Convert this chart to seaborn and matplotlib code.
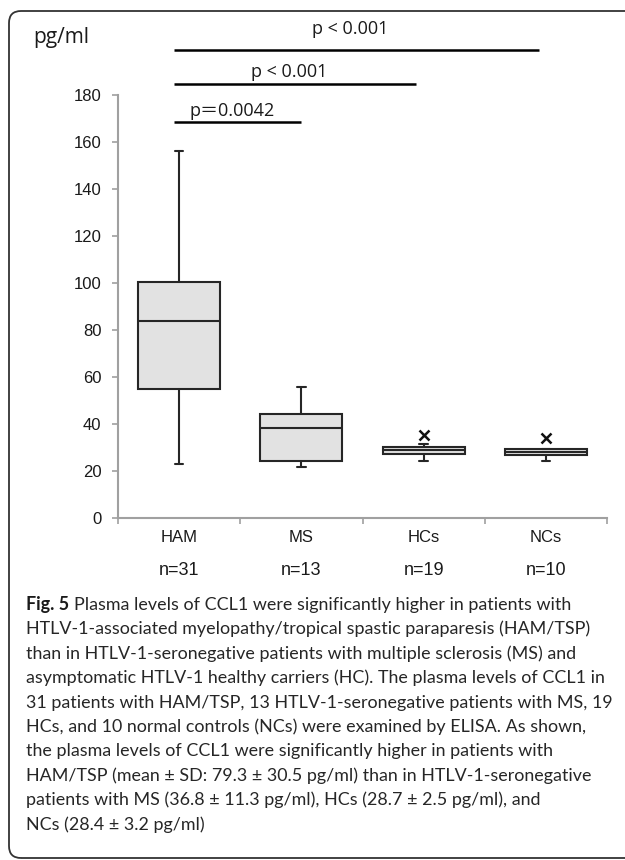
import matplotlib
matplotlib.use("Agg")
import matplotlib.pyplot as plt
from matplotlib.patches import FancyBboxPatch
import seaborn as sns

# Box statistics (pg/ml)
groups = ["HAM", "MS", "HCs", "NCs"]
n_counts = [31, 13, 19, 10]
medians = [83.9, 38.2, 28.8, 27.9]
q1 = [54.9, 24.1, 27.3, 26.6]
q3 = [100.5, 44.3, 30.1, 29.3]
whisker_low = [22.7, 21.6, 24.1, 24.3]
whisker_high = [156.3, 55.8, 31.4, 29.3]
outliers = [[], [], [35.2], [34.1]]

# comparisons against HAM
comp_targets = ["MS", "HCs", "NCs"]
comp_labels = ["p\uff1d0.0042", "p < 0.001", "p < 0.001"]

caption_lines = [
    "Plasma levels of CCL1 were significantly higher in patients with",
    "HTLV-1-associated myelopathy/tropical spastic paraparesis (HAM/TSP)",
    "than in HTLV-1-seronegative patients with multiple sclerosis (MS) and",
    "asymptomatic HTLV-1 healthy carriers (HC). The plasma levels of CCL1 in",
    "31 patients with HAM/TSP, 13 HTLV-1-seronegative patients with MS, 19",
    "HCs, and 10 normal controls (NCs) were examined by ELISA. As shown,",
    "the plasma levels of CCL1 were significantly higher in patients with",
    "HAM/TSP (mean \u00b1 SD: 79.3 \u00b1 30.5 pg/ml) than in HTLV-1-seronegative",
    "patients with MS (36.8 \u00b1 11.3 pg/ml), HCs (28.7 \u00b1 2.5 pg/ml), and",
    "NCs (28.4 \u00b1 3.2 pg/ml)",
]

sns.set_style("white")
plt.rcParams['font.family'] = ['Liberation Sans', 'DejaVu Sans']

W, H = 625, 860
fig = plt.figure(figsize=(W / 100, H / 100), dpi=100)
ax = fig.add_axes([118 / W, 1 - 517.7 / H, (607 - 118) / W, (517.7 - 95) / H])

stats = []
for i, g in enumerate(groups):
    stats.append(dict(label=g, med=medians[i], q1=q1[i], q3=q3[i],
                      whislo=whisker_low[i], whishi=whisker_high[i],
                      fliers=outliers[i]))

dark = '#262626'
ax.bxp(stats, positions=range(len(groups)), widths=0.67, patch_artist=True,
       showfliers=True, manage_ticks=False, capwidths=0.07,
       boxprops=dict(facecolor='#e2e2e2', edgecolor=dark, linewidth=1.5),
       medianprops=dict(color=dark, linewidth=1.5),
       whiskerprops=dict(color=dark, linewidth=1.5),
       capprops=dict(color=dark, linewidth=1.5),
       flierprops=dict(marker='x', markersize=7, markeredgecolor='#111111',
                       markeredgewidth=1.8, linestyle='none'))

ax.set_xlim(-0.5, len(groups) - 0.5)
ax.set_ylim(0, 180)
ax.set_yticks(range(0, 181, 20))
ax.set_xticks(range(len(groups)))
ax.set_xticklabels(groups)
ax.set_xticks([i - 0.5 for i in range(len(groups) + 1)], minor=True)

sns.despine(ax=ax)
for s in ['left', 'bottom']:
    ax.spines[s].set_color('#a0a0a0')
    ax.spines[s].set_linewidth(1.5)
ax.tick_params(axis='y', length=4, width=1.2, color='#a0a0a0', pad=8,
               labelsize=12, labelcolor='#1a1a1a', left=True)
ax.tick_params(axis='x', which='major', length=0, pad=9, labelsize=12,
               labelcolor='#1a1a1a')
ax.tick_params(axis='x', which='minor', length=4, width=1.2, color='#a0a0a0',
               bottom=True, direction='out')
ax.grid(False)

# n labels under the group names
for i, n in enumerate(n_counts):
    ax.text(i, -0.124, f"n={n}", transform=ax.get_xaxis_transform(),
            ha='center', va='center', fontsize=13, color='#1a1a1a')

# significance bars
line_levels = [168.5, 184.6, 199.2]
label_levels = [171.0, 187.7, 206.0]
for k, (tgt, lab) in enumerate(zip(comp_targets, comp_labels)):
    x0 = -0.04
    x1 = groups.index(tgt) - (0.0 if k == 0 else 0.06)
    ax.plot([x0, x1], [line_levels[k], line_levels[k]], color='black',
            linewidth=1.8, clip_on=False, solid_capstyle='butt')
    ax.text((x0 + x1) / 2 - 0.05, label_levels[k], lab, ha='center',
            va='baseline', fontsize=13, color='#1a1a1a',
            family=['Open Sans', 'Noto Sans CJK JP'], clip_on=False)

fig.text(33 / W, 1 - 43 / H, "pg/ml", ha='left', va='baseline', fontsize=15,
         color='#1a1a1a', family=['Open Sans'])

# caption
cap_font = ['Lato', 'DejaVu Sans']
cap_size = 12.85
bold = fig.text(26 / W, 1 - 610 / H, "Fig. 5", ha='left', va='baseline',
                fontsize=cap_size, fontweight='bold', color='#1a1a1a',
                family=cap_font)
fig.canvas.draw()
bb = bold.get_window_extent()
for k, line in enumerate(caption_lines):
    x = (bb.x1 + 5) / W if k == 0 else 26 / W
    fig.text(x, 1 - (610 + 24.4 * k) / H, line, ha='left', va='baseline',
             fontsize=cap_size, color='#262626', family=cap_font)

# rounded frame around the figure (right side runs off the page)
frame = FancyBboxPatch((0.09, 0.02), 7.0, 8.47,
                       boxstyle="round,pad=0,rounding_size=0.12",
                       transform=fig.dpi_scale_trans, facecolor='none',
                       edgecolor='#333333', linewidth=1.3, clip_on=False)
fig.patches.append(frame)

fig.savefig("out.png", dpi=100)
plt.close(fig)
